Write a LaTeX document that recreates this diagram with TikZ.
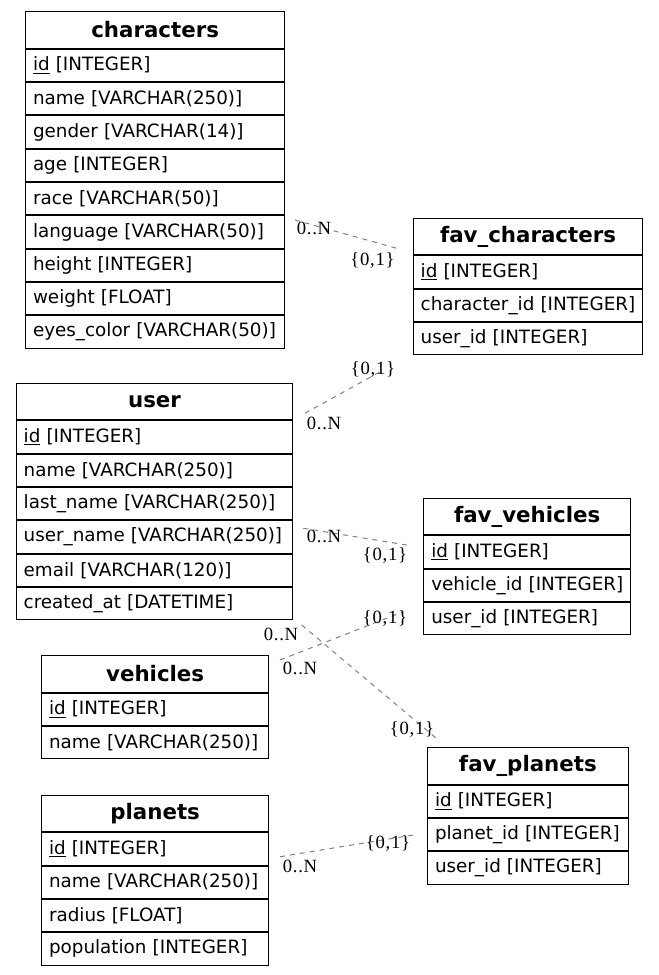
\documentclass[tikz,border=0pt]{standalone}
\usepackage{fontspec}
\setmainfont{DejaVu Sans}
\newfontfamily\cardfont[LetterSpace=4]{Liberation Serif}
\usetikzlibrary{positioning}

\tikzset{every picture/.style={line width=0.75pt}}
\tikzset{
  tblhead/.style={draw, inner xsep=5.625pt, inner ysep=0pt, minimum height=27.5pt, text width=#1, align=center, font=\fontsize{16}{19}\selectfont\bfseries},
  tblrow/.style={draw, inner xsep=5.625pt, inner ysep=0pt, minimum height=24.25pt, text width=#1, font=\fontsize{13.75}{17}\selectfont,
    execute at begin node=\hbox\bgroup, execute at end node=\egroup},
  card/.style={inner sep=0pt, font=\cardfont\fontsize{14}{16}\selectfont},
  rel/.style={draw={rgb,255:red,128;green,128;blue,128}, dash pattern=on 3.75pt off 3.75pt},
}

\begin{document}
\begin{tikzpicture}[x=0.75pt,y=0.75pt,yscale=-1,xscale=1]
\useasboundingbox (0,0) rectangle (659,975);

% characters
\node[tblhead=183.25pt, anchor=north west] (characters) at (25,11) {characters};
\node[tblrow=183.25pt, below=0pt of characters] (characters-id) {\underline{id} [INTEGER]};
\node[tblrow=183.25pt, below=0pt of characters-id] (characters-name) {name [VARCHAR(250)]};
\node[tblrow=183.25pt, below=0pt of characters-name] (characters-gender) {gender [VARCHAR(14)]};
\node[tblrow=183.25pt, below=0pt of characters-gender] (characters-age) {age [INTEGER]};
\node[tblrow=183.25pt, below=0pt of characters-age] (characters-race) {race [VARCHAR(50)]};
\node[tblrow=183.25pt, below=0pt of characters-race] (characters-language) {language [VARCHAR(50)]};
\node[tblrow=183.25pt, below=0pt of characters-language] (characters-height) {height [INTEGER]};
\node[tblrow=183.25pt, below=0pt of characters-height] (characters-weight) {weight [FLOAT]};
\node[tblrow=183.25pt, below=0pt of characters-weight] (characters-eyes) {eyes\_color [VARCHAR(50)]};

% fav_characters
\node[tblhead=160.95pt, anchor=north west] (favchar) at (412.7,217.7) {fav\_characters};
\node[tblrow=160.95pt, below=0pt of favchar] (favchar-id) {\underline{id} [INTEGER]};
\node[tblrow=160.95pt, below=0pt of favchar-id] (favchar-charid) {character\_id [INTEGER]};
\node[tblrow=160.95pt, below=0pt of favchar-charid] (favchar-userid) {user\_id [INTEGER]};

% user
\node[tblhead=196.2pt, anchor=north west] (user) at (15.7,382.7) {user};
\node[tblrow=196.2pt, below=0pt of user] (user-id) {\underline{id} [INTEGER]};
\node[tblrow=196.2pt, below=0pt of user-id] (user-name) {name [VARCHAR(250)]};
\node[tblrow=196.2pt, below=0pt of user-name] (user-lastname) {last\_name [VARCHAR(250)]};
\node[tblrow=196.2pt, below=0pt of user-lastname] (user-username) {user\_name [VARCHAR(250)]};
\node[tblrow=196.2pt, below=0pt of user-username] (user-email) {email [VARCHAR(120)]};
\node[tblrow=196.2pt, below=0pt of user-email] (user-created) {created\_at [DATETIME]};

% fav_vehicles
\node[tblhead=143.8pt, anchor=north west] (favveh) at (423.3,497.7) {fav\_vehicles};
\node[tblrow=143.8pt, below=0pt of favveh] (favveh-id) {\underline{id} [INTEGER]};
\node[tblrow=143.8pt, below=0pt of favveh-id] (favveh-vehid) {vehicle\_id [INTEGER]};
\node[tblrow=143.8pt, below=0pt of favveh-vehid] (favveh-userid) {user\_id [INTEGER]};

% vehicles
\node[tblhead=159.2pt, anchor=north west] (vehicles) at (41,655) {vehicles};
\node[tblrow=159.2pt, below=0pt of vehicles] (vehicles-id) {\underline{id} [INTEGER]};
\node[tblrow=159.2pt, below=0pt of vehicles-id] (vehicles-name) {name [VARCHAR(250)]};

% fav_planets
\node[tblhead=139.3pt, anchor=north west] (favpla) at (427,747) {fav\_planets};
\node[tblrow=139.3pt, below=0pt of favpla] (favpla-id) {\underline{id} [INTEGER]};
\node[tblrow=139.3pt, below=0pt of favpla-id] (favpla-plaid) {planet\_id [INTEGER]};
\node[tblrow=139.3pt, below=0pt of favpla-plaid] (favpla-userid) {user\_id [INTEGER]};

% planets
\node[tblhead=159.2pt, anchor=north west] (planets) at (41,794.5) {planets};
\node[tblrow=159.2pt, below=0pt of planets] (planets-id) {\underline{id} [INTEGER]};
\node[tblrow=159.2pt, below=0pt of planets-id] (planets-name) {name [VARCHAR(250)]};
\node[tblrow=159.2pt, below=0pt of planets-name] (planets-radius) {radius [FLOAT]};
\node[tblrow=159.2pt, below=0pt of planets-radius] (planets-pop) {population [INTEGER]};

% relations
\coordinate (r1a) at (295,220);   \coordinate (r1b) at (396.7,248.3);
\coordinate (r2a) at (305,413.3); \coordinate (r2b) at (383.3,370);
\coordinate (r3a) at (303.3,528.3); \coordinate (r3b) at (406.7,545);
\coordinate (r4a) at (280,660);   \coordinate (r4b) at (403.3,611.7);
\coordinate (r5a) at (301.7,625); \coordinate (r5b) at (438.3,740);
\coordinate (r6a) at (280,856.7); \coordinate (r6b) at (413.3,835);
\draw[rel] (r1a) -- (r1b);
\draw[rel] (r2a) -- (r2b);
\draw[rel] (r3a) -- (r3b);
\draw[rel] (r4a) -- (r4b);
\draw[rel] (r5a) -- (r5b);
\draw[rel] (r6a) -- (r6b);

\node[card] (r1-many) at (314,228) {0..N};
\node[card] (r1-one) at (372.5,260) {\{0,1\}};
\node[card] (r2-many) at (324,423) {0..N};
\node[card] (r2-one) at (373,369) {\{0,1\}};
\node[card] (r3-many) at (324,536) {0..N};
\node[card] (r3-one) at (385,555) {\{0,1\}};
\node[card] (r4-many) at (300,668) {0..N};
\node[card] (r4-one) at (385,618) {\{0,1\}};
\node[card] (r5-many) at (281,634) {0..N};
\node[card] (r5-one) at (412,729) {\{0,1\}};
\node[card] (r6-many) at (300,866) {0..N};
\node[card] (r6-one) at (388,843) {\{0,1\}};

\end{tikzpicture}
\end{document}
